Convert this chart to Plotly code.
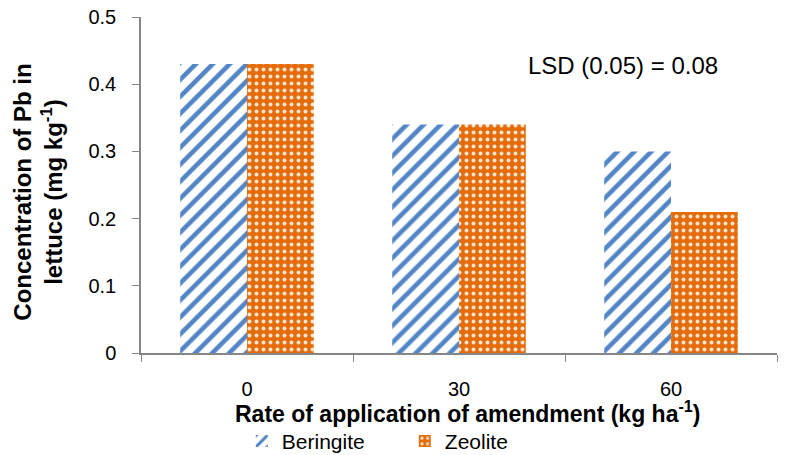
import plotly.graph_objects as go

categories = ["0", "30", "60"]
beringite = [0.43, 0.34, 0.30]
zeolite = [0.43, 0.34, 0.21]
y_ticks = [0, 0.1, 0.2, 0.3, 0.4, 0.5]
y_tick_labels = ["0", "0.1", "0.2", "0.3", "0.4", "0.5"]
x_title = "<b>Rate of application of amendment (kg ha<sup>-1</sup>)</b>"
y_title = "<b>Concentration of Pb in<br>lettuce (mg kg<sup>-1</sup>)</b>"
lsd_text = "LSD (0.05) = 0.08"

font_family = "Liberation Sans, Arial, sans-serif"

fig = go.Figure()
fig.add_trace(go.Bar(
    x=categories, y=beringite, name="Beringite",
    marker=dict(color="white", line=dict(width=0),
                pattern=dict(shape="/", fgcolor="#5285C6", bgcolor="white",
                             size=12, solidity=0.38, fillmode="replace")),
))
fig.add_trace(go.Bar(
    x=categories, y=zeolite, name="Zeolite",
    marker=dict(color="#E46C0A", line=dict(width=0),
                pattern=dict(shape=".", fgcolor="#FCE4D0", bgcolor="#E46C0A",
                             size=7, solidity=0.25, fillmode="replace")),
))

fig.add_annotation(
    text=lsd_text, x=0.758, y=0.857, xref="paper", yref="paper",
    showarrow=False, font=dict(family=font_family, size=24, color="#000000"),
    xanchor="center", yanchor="middle",
)
fig.add_annotation(
    text=x_title, x=0.513, y=-0.176, xref="paper", yref="paper",
    showarrow=False, font=dict(family=font_family, size=23, color="#000000"),
    xanchor="center", yanchor="middle", borderpad=0,
)
fig.add_annotation(
    text=y_title, x=-0.162, y=0.48, xref="paper", yref="paper", textangle=-90,
    showarrow=False, font=dict(family=font_family, size=24, color="#000000"),
    xanchor="center", yanchor="middle",
)

fig.update_layout(
    width=806, height=455,
    margin=dict(l=141, r=29, t=17, b=102, autoexpand=False),
    paper_bgcolor="white", plot_bgcolor="white",
    barmode="group", bargap=0.37, bargroupgap=0,
    font=dict(family=font_family, size=20, color="#000000"),
    showlegend=True,
    legend=dict(orientation="h", xref="container", yref="container",
                x=0.300, y=0.030, xanchor="left", yanchor="middle",
                font=dict(size=21, color="#000000"),
                traceorder="normal", entrywidth=118, bgcolor="rgba(0,0,0,0)"),
    xaxis=dict(
        type="category", showline=True, linecolor="#868686", linewidth=1.5,
        ticks="outside", tickson="boundaries", ticklen=7, tickcolor="#868686",
        showgrid=False, tickfont=dict(size=20), ticklabelstandoff=17,
        automargin=False,
    ),
    yaxis=dict(
        range=[0, 0.5], tickvals=y_ticks, ticktext=y_tick_labels,
        showline=True, linecolor="#868686", linewidth=1.5,
        ticks="outside", ticklen=7, tickcolor="#868686",
        showgrid=False, zeroline=False, tickfont=dict(size=20),
        ticklabelstandoff=12, automargin=False,
    ),
)

fig.write_html("out.html", config={"displayModeBar": False},
               post_script="document.body.style.margin='0';")
